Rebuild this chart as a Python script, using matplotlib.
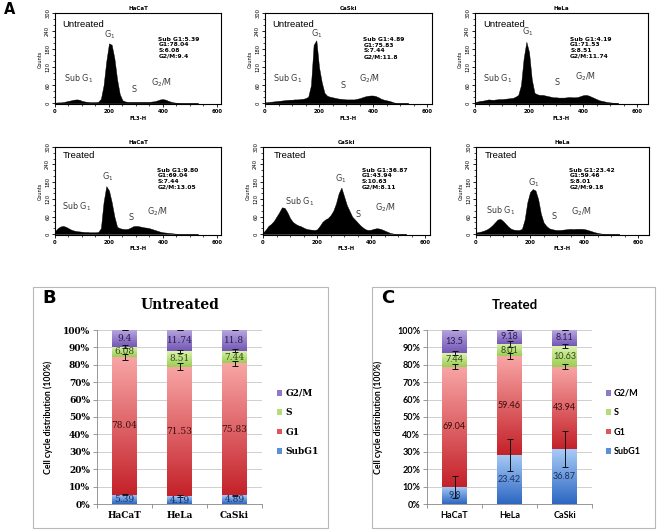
import numpy as np
import matplotlib

matplotlib.use("agg")
import matplotlib.pyplot as plt
from matplotlib.patches import Rectangle, Patch
from matplotlib.colors import LinearSegmentedColormap
from matplotlib.ticker import MultipleLocator

W, H = 657, 531

# ---- panel A: flow cytometry histograms (counts every 10 units of FL3-H)
fl3_bins = list(range(0, 540, 10))
hacat_untreated = [2, 3, 3, 4, 6, 8, 10, 12, 13, 12, 8, 6, 5, 4, 4, 4, 5, 15, 60, 140,
                   200, 195, 150, 80, 30, 10, 6, 5, 5, 5, 5, 5, 5, 5, 5, 5, 6, 7, 10, 13,
                   14, 12, 8, 5, 3, 2, 1, 0, 0, 0, 0, 0, 0, 0]
caski_untreated = [3, 4, 5, 6, 7, 8, 9, 10, 11, 12, 12, 13, 13, 14, 15, 17, 22, 60, 195, 210,
                   120, 70, 35, 25, 22, 20, 18, 16, 15, 14, 13, 13, 13, 13, 15, 17, 20, 23, 25, 26,
                   26, 24, 20, 15, 12, 10, 8, 5, 2, 0, 0, 0, 0, 0]
hela_untreated = [4, 6, 8, 9, 11, 13, 12, 12, 13, 14, 14, 15, 16, 17, 18, 22, 28, 60, 150, 205,
                  170, 80, 35, 30, 28, 28, 26, 24, 22, 20, 20, 19, 19, 19, 20, 21, 20, 20, 21, 24,
                  27, 28, 26, 22, 18, 14, 10, 8, 6, 4, 3, 2, 1, 0]
hacat_treated = [10, 20, 26, 28, 25, 20, 15, 12, 10, 9, 8, 7, 7, 6, 6, 6, 7, 20, 110, 165,
                 150, 110, 60, 25, 20, 18, 17, 18, 22, 27, 28, 27, 25, 23, 22, 20, 17, 14, 11, 8,
                 6, 5, 4, 3, 2, 1, 0, 0, 0, 0, 0, 0, 0, 0]
caski_treated = [5, 15, 28, 35, 45, 60, 75, 92, 90, 75, 55, 42, 35, 30, 27, 22, 18, 16, 15, 14,
                 16, 28, 42, 50, 55, 65, 80, 105, 140, 160, 130, 100, 80, 60, 50, 40, 30, 22, 16, 14,
                 15, 18, 20, 19, 16, 12, 8, 4, 2, 0, 0, 0, 0, 0]
hela_treated = [5, 7, 9, 12, 16, 22, 30, 40, 50, 52, 45, 35, 25, 18, 15, 14, 14, 18, 50, 110,
                145, 155, 150, 120, 70, 40, 28, 20, 17, 15, 14, 14, 15, 16, 17, 18, 17, 18, 18, 18,
                17, 15, 12, 9, 6, 4, 2, 1, 0, 0, 0, 0, 0, 0]

hist_titles = ["HaCaT", "CaSki", "HeLa"]
stats_untreated = ["Sub G1:5.39\nG1:78.04\nS:6.08\nG2/M:9.4",
                   "Sub G1:4.89\nG1:75.83\nS:7.44\nG2/M:11.8",
                   "Sub G1:4.19\nG1:71.53\nS:8.51\nG2/M:11.74"]
stats_treated = ["Sub G1:9.80\nG1:69.04\nS:7.44\nG2/M:13.05",
                 "Sub G1:36.87\nG1:43.94\nS:10.63\nG2/M:8.11",
                 "Sub G1:23.42\nG1:59.46\nS:8.01\nG2/M:9.18"]

# ---- panels B/C: stacked cell cycle distribution (%)
cell_lines = ["HaCaT", "HeLa", "CaSki"]
phases = ["SubG1", "G1", "S", "G2/M"]

untreated_subg1 = [5.45, 4.37, 4.89]
untreated_g1 = [78.9, 74.53, 75.86]
untreated_s = [6.15, 8.87, 7.44]
untreated_g2m = [9.5, 12.23, 11.81]
untreated_subg1_err = [0.4, 0.6, 0.5]
untreated_g1_err = [1.6, 2.0, 1.4]
untreated_s_err = [1.0, 1.0, 1.0]
untreated_labels = [["5.39", "4.19", "4.89"], ["78.04", "71.53", "75.83"],
                    ["6.08", "8.51", "7.44"], ["9.4", "11.74", "11.8"]]

treated_subg1 = [9.8, 28.3, 31.5]
treated_g1 = [69.2, 56.7, 47.5]
treated_s = [7.7, 7.0, 12.0]
treated_g2m = [13.3, 8.0, 9.0]
treated_subg1_err = [6.5, 9.2, 10.3]
treated_g1_err = [1.7, 1.5, 1.5]
treated_s_err = [1.3, 1.8, 1.2]
treated_labels = [["9.8", "23.42", "36.87"], ["69.04", "59.46", "43.94"],
                  ["7.44", "8.01", "10.63"], ["13.5", "9.18", "8.11"]]

# bottom / top gradient colours for each phase
grad_colors = [("#2c67c2", "#a8cbf6"), ("#c4222a", "#f8a5a5"),
               ("#9ccc55", "#dcf2ae"), ("#7457b5", "#b6a6de")]
legend_colors = ["#5b8fd8", "#e0555a", "#b5dc79", "#9078c8"]
label_colors = ["#1b2f5e", "#3d0c0c", "#2e4a10", "#2a1a55"]


def px_rect(x0, y0, x1, y1):
    return [x0 / W, 1 - y1 / H, (x1 - x0) / W, (y1 - y0) / H]


fig = plt.figure(figsize=(W / 100, H / 100), dpi=100)


def draw_hist(rect, xmax, counts, title, cond, stats, pos):
    ax = fig.add_axes(px_rect(*rect))
    ax.fill_between(fl3_bins, counts, 0, color="black", lw=0.3)
    ax.set_xlim(0, xmax)
    ax.set_ylim(-4, 300)
    ax.set_xticks([0, 200, 400, 600])
    ax.xaxis.set_minor_locator(MultipleLocator(50))
    ax.set_yticks(range(0, 301, 60))
    ax.yaxis.set_minor_locator(MultipleLocator(20))
    ax.tick_params(which="major", length=2.5, width=0.6, labelsize=3.8, pad=1)
    ax.tick_params(which="minor", length=1.3, width=0.5)
    for lab in ax.get_xticklabels():
        lab.set_fontweight("bold")
    for lab in ax.get_yticklabels():
        lab.set_rotation(90)
        lab.set_va("center")
    for sp in ax.spines.values():
        sp.set_linewidth(0.8)
    ax.set_title(title, fontsize=4, fontweight="bold", pad=2.5)
    ax.set_xlabel("FL3-H", fontsize=3.8, fontweight="bold", labelpad=1)
    ax.set_ylabel("Counts", fontsize=3.6, labelpad=1.5)
    ax.text(pos["cond"][0], pos["cond"][1], cond, fontsize=6.8, family="Liberation Sans",
            va="center", ha="left")
    ax.text(pos["stats"][0], pos["stats"][1], stats, fontsize=4.3, fontweight="bold",
            va="top", ha="left", linespacing=1.15)
    gray = "#3a3a3a"
    ax.text(pos["g1"][0], pos["g1"][1], "G$_1$", fontsize=5.8, color=gray, ha="center", va="center")
    ax.text(pos["sub"][0], pos["sub"][1], "Sub G$_1$", fontsize=5.8, color=gray, ha="left", va="center")
    ax.text(pos["s"][0], pos["s"][1], "S", fontsize=5.8, color=gray, ha="center", va="center")
    ax.text(pos["g2"][0], pos["g2"][1], "G$_2$/M", fontsize=5.8, color=gray, ha="left", va="center")


hist_rects = [
    [(55, 13.3, 221, 104.5), (265, 13.3, 432, 104.5), (475, 13.3, 648, 104.5)],
    [(55, 147, 221, 235.2), (263, 147, 430, 235.2), (476, 147, 649, 235.2)],
]
hist_xmax = [615, 618, 640]
hist_counts = [[hacat_untreated, caski_untreated, hela_untreated],
               [hacat_treated, caski_treated, hela_treated]]
hist_pos = [
    [dict(cond=(27, 264), stats=(383, 222), g1=(204, 228), sub=(33, 81), s=(292, 47), g2=(354, 69)),
     dict(cond=(28, 264), stats=(364, 220), g1=(192, 232), sub=(31, 83), s=(288, 59), g2=(349, 83)),
     dict(cond=(29, 264), stats=(352, 222), g1=(196, 239), sub=(31, 83), s=(304, 69), g2=(370, 89))],
    [dict(cond=(27, 269), stats=(379, 228), g1=(194, 197), sub=(27, 95), s=(280, 57), g2=(342, 78)),
     dict(cond=(39, 269), stats=(366, 228), g1=(288, 192), sub=(82, 112), s=(352, 68), g2=(415, 91)),
     dict(cond=(34, 269), stats=(345, 228), g1=(215, 178), sub=(38, 80), s=(288, 60), g2=(350, 78))],
]
for r, (cond, stats) in enumerate([("Untreated", stats_untreated), ("Treated", stats_treated)]):
    for c in range(3):
        draw_hist(hist_rects[r][c], hist_xmax[c], hist_counts[r][c], hist_titles[c],
                  cond, stats[c], hist_pos[r][c])


def draw_stack(rect, segs, errs, labels, title, serif, leg_anchor, title_xy):
    ax = fig.add_axes(px_rect(*rect))
    tick_font = dict(family="DejaVu Serif" if serif else "Lato", weight="bold")
    num_font = "DejaVu Serif" if serif else "Lato"
    x = np.arange(len(cell_lines))
    width = 0.44
    bottoms = np.zeros(len(cell_lines))
    grad = np.linspace(0, 1, 64).reshape(-1, 1)
    for i, seg in enumerate(segs):
        seg = np.array(seg)
        cmap = LinearSegmentedColormap.from_list("g%d" % i, grad_colors[i])
        ax.bar(x, seg, width=width, bottom=bottoms, color=legend_colors[i], zorder=2)
        for xi, b, h in zip(x, bottoms, seg):
            ax.imshow(grad, extent=[xi - width / 2, xi + width / 2, b, b + h], origin="lower",
                      cmap=cmap, aspect="auto", interpolation="bilinear", zorder=2.5)
        tops = bottoms + seg
        err = errs[i] if i < len(errs) else [0, 0, 0]
        eb = ax.errorbar(x, tops, yerr=err, fmt="none", ecolor="#111111", elinewidth=0.7,
                         capsize=2.2, capthick=0.7, zorder=4)
        for art in list(eb.lines[1]) + list(eb.lines[2]):
            art.set_clip_on(False)
        for xi, b, h, lab in zip(x, bottoms, seg, labels[i]):
            ax.text(xi, b + h / 2, lab, ha="center", va="center", fontsize=6.5,
                    family=num_font, color=label_colors[i], zorder=5)
        bottoms = tops
    ax.set_xlim(-0.5, 2.5)
    ax.set_ylim(0, 100)
    ax.set_yticks(range(0, 101, 10))
    ax.set_yticklabels(["%d%%" % v for v in range(0, 101, 10)], fontdict=tick_font, fontsize=6.5)
    ax.set_xticks(x)
    ax.set_xticklabels(cell_lines, fontdict=tick_font, fontsize=6.5)
    ax.set_xticks([-0.5, 0.5, 1.5, 2.5], minor=True)
    ax.tick_params(axis="x", which="major", length=0, pad=5)
    ax.tick_params(axis="x", which="minor", length=3, color="#888888", width=0.6)
    ax.tick_params(axis="y", length=3, color="#888888", width=0.6, pad=2)
    ax.yaxis.grid(True, color="#c8c8c8", lw=0.6, zorder=0)
    ax.set_axisbelow(True)
    for k in ["top", "right"]:
        ax.spines[k].set_visible(False)
    for k in ["left", "bottom"]:
        ax.spines[k].set_color("#888888")
        ax.spines[k].set_linewidth(0.6)
    ax.set_ylabel("Cell cycle distribution (100%)", fontsize=6.3, fontweight="bold", family="Lato")
    ax.yaxis.set_label_coords(-44 / (rect[2] - rect[0]), 0.5)
    fig.text(title_xy[0] / W, 1 - title_xy[1] / H, title, ha="center", va="center",
             fontsize=10 if serif else 9.5, fontweight="bold",
             family="DejaVu Serif" if serif else "Lato")
    handles = [Patch(facecolor=legend_colors[i]) for i in [3, 2, 1, 0]]
    names = [phases[i] for i in [3, 2, 1, 0]]
    fig.legend(handles, names, loc="upper left", bbox_to_anchor=(leg_anchor[0] / W, 1 - leg_anchor[1] / H),
               frameon=False, handlelength=0.6, handleheight=0.6, handletextpad=0.3,
               labelspacing=1.15, borderaxespad=0, borderpad=0,
               prop=dict(family="DejaVu Serif" if serif else "Lato", weight="bold", size=6.5))


# panel frames
for x0, x1 in [(33, 328), (372, 655)]:
    fig.add_artist(Rectangle((x0 / W, 1 - 528 / H), (x1 - x0) / W, (528 - 287) / H,
                             transform=fig.transFigure, fill=False, edgecolor="#b8b8b8", lw=0.8))

draw_stack((97, 330, 262, 504),
           [untreated_subg1, untreated_g1, untreated_s, untreated_g2m],
           [untreated_subg1_err, untreated_g1_err, untreated_s_err],
           untreated_labels, "Untreated", True, (277, 389), (180, 305))
draw_stack((427, 330, 592, 504),
           [treated_subg1, treated_g1, treated_s, treated_g2m],
           [treated_subg1_err, treated_g1_err, treated_s_err],
           treated_labels, "Treated", False, (606, 389), (515, 305))

fig.text(4 / W, 1 - 2 / H, "A", fontsize=10.5, fontweight="bold", va="top", ha="left")
fig.text(42 / W, 1 - 289 / H, "B", fontsize=13, fontweight="bold", va="top", ha="left")
fig.text(381 / W, 1 - 289 / H, "C", fontsize=13, fontweight="bold", va="top", ha="left")

fig.savefig("out.png", dpi=100)
